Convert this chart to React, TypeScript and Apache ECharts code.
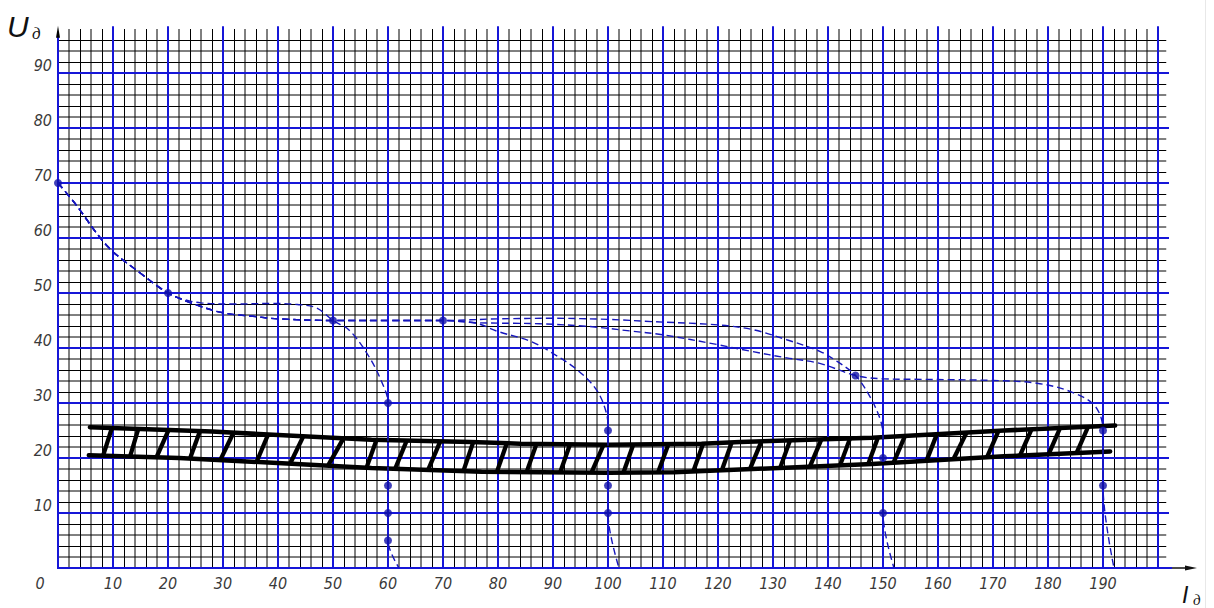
import React, { useEffect, useRef } from 'react';
import * as echarts from 'echarts';

// ---- tick labels ----
const X_TICK_LABELS = [0, 10, 20, 30, 40, 50, 60, 70, 80, 90, 100, 110, 120, 130, 140, 150, 160, 170, 180, 190];
const Y_TICK_LABELS = [10, 20, 30, 40, 50, 60, 70, 80, 90];

// ---- dashed volt-ampere curves (I, U) ----
const curveTo60 = [
  [0, 70], [3, 66.4], [9, 58.5], [15, 53.6], [20, 50], [22, 49.1], [26, 48.2], [32, 48], [39, 48.1],
  [43.5, 47.9], [47, 47.3], [50, 45], [53, 43.2], [56.5, 38.5], [59, 33.5], [60, 30], [60, 15], [60, 10], [60, 5], [62, 0],
];
const curveTo100 = [
  [0, 70], [3, 66.4], [9, 58.5], [15, 53.6], [20, 50], [25, 47.9], [30, 46.4], [36, 45.7], [40, 45.3], [50, 45],
  [60, 45], [70, 45], [76, 44.5], [80, 43], [86, 41.2], [90, 39], [94.3, 36.1], [97.9, 32.4], [99.7, 28.2], [100, 25],
  [100, 15], [100, 10], [102, 0],
];
const curveTo150 = [
  [0, 70], [3, 66.4], [9, 58.5], [15, 53.6], [20, 50], [25, 47.9], [30, 46.4], [36, 45.7], [40, 45.3], [50, 45],
  [60, 45], [70, 45], [80, 45.3], [90, 45.4], [100, 45.2], [108, 44.8], [120, 44.2], [126.5, 43.3], [132.5, 41.5],
  [138.5, 39.4], [141.6, 37.6], [145, 35], [147.6, 31.2], [149.5, 27], [150, 24], [150, 20], [150, 10], [152, 0],
];
const curveTo190 = [
  [0, 70], [3, 66.4], [9, 58.5], [15, 53.6], [20, 50], [25, 47.9], [30, 46.4], [36, 45.7], [40, 45.3], [50, 45],
  [60, 45], [70, 45], [76, 44.6], [87.6, 44.4], [96.7, 43.9], [104, 43.1], [110, 42.4], [120, 40.6], [126, 39.4],
  [132.5, 38.2], [138.5, 37.2], [145, 35], [150, 34.4], [157, 34.3], [170, 34.1], [178, 33.6], [184, 32.1],
  [188.5, 29.5], [190, 25], [190, 15], [192, 0],
];
const measuredPoints = [
  [0, 70], [20, 50], [50, 45], [70, 45], [145, 35], [190, 25],
  [60, 30], [60, 15], [60, 10], [60, 5],
  [100, 25], [100, 15], [100, 10],
  [150, 20], [150, 10],
  [190, 15],
];

// ---- hatched working band ----
const bandUpper = [
  [5.8, 25.6], [28, 24.8], [57, 23.3], [75, 22.9], [84, 22.6], [100, 22.4], [117, 22.6], [124, 22.9],
  [148, 23.7], [172, 25], [192.2, 25.9],
];
const bandLower = [
  [5.6, 20.5], [22, 20], [57, 18.2], [77, 17.5], [100, 17.3], [112, 17.4], [124, 17.9], [148, 18.9],
  [172, 20.3], [191.3, 21.2],
];
const hatchBottomX = [
  8.2, 13.1, 17.9, 24, 29.5, 36.1, 42.2, 49.1, 56.1, 61.3, 67.3, 73.7, 79.8, 85.2, 91.3, 97, 102.8, 109.1,
  115.5, 120.7, 125.8, 131.3, 136.7, 142.2, 147.3, 151.9, 157.9, 162.8, 168.9, 174.9, 180.1, 185.2,
];
const hatchTopX = [
  9.8, 14.6, 20.1, 25.8, 31.9, 38.2, 44.6, 51.9, 57.9, 63.4, 69.5, 75.5, 81.6, 87, 93.1, 99.2, 104.6, 111,
  117.3, 122.5, 127.9, 133.1, 138.8, 144, 149.1, 154, 159.8, 165.2, 171, 177, 182.2, 187.3,
];

const BLUE_GRID = '#1616d8';
const BLUE_CURVE = '#1616bc';
const BLUE_DOT = '#1010a8';
const LABEL_FONT = "'Liberation Sans Narrow', 'DejaVu Sans Condensed', 'Liberation Sans', sans-serif";

function yOnLine(line: number[][], x: number): number {
  if (x <= line[0][0]) return line[0][1];
  for (let i = 1; i < line.length; i++) {
    const [x0, y0] = line[i - 1];
    const [x1, y1] = line[i];
    if (x <= x1) return y0 + ((y1 - y0) * (x - x0)) / (x1 - x0);
  }
  return line[line.length - 1][1];
}

const X_MAX = 202;
const Y_MAX = 98;

function renderGrid(_params: any, api: any) {
  const children: any[] = [];
  const P = (x: number, y: number) => api.coord([x, y]);
  // minor verticals
  for (let v = 2; v < 200; v += 2) {
    if (v % 10 === 0) continue;
    const a = P(v, 0);
    const b = P(v, Y_MAX);
    const odd = Math.round(v / 2) % 2 === 1;
    const x = odd ? Math.round(a[0]) : Math.round(a[0]) + 0.5;
    children.push({ type: 'line', silent: true, shape: { x1: x, y1: a[1], x2: x, y2: b[1] }, style: { stroke: '#000', lineWidth: 1 } });
  }
  // minor horizontals
  for (let v = 2; v <= 96; v += 2) {
    if (v % 10 === 0) continue;
    const a = P(0, v);
    const b = P(201.5, v);
    const odd = Math.round(v / 2) % 2 === 1;
    const y = odd ? Math.round(a[1]) : Math.round(a[1]) + 0.5;
    children.push({ type: 'line', silent: true, shape: { x1: a[0], y1: y, x2: b[0], y2: y }, style: { stroke: '#000', lineWidth: 1 } });
  }
  // major verticals
  for (let v = 10; v <= 200; v += 10) {
    const a = P(v, 0);
    const b = P(v, 98.5);
    const x = Math.round(a[0]);
    children.push({ type: 'line', silent: true, shape: { x1: x, y1: a[1], x2: x, y2: b[1] }, style: { stroke: BLUE_GRID, lineWidth: 2 } });
  }
  // major horizontals
  for (let v = 10; v <= 90; v += 10) {
    const a = P(0, v);
    const b = P(X_MAX, v);
    const y = Math.round(a[1]);
    children.push({ type: 'line', silent: true, shape: { x1: a[0], y1: y, x2: b[0], y2: y }, style: { stroke: BLUE_GRID, lineWidth: 2 } });
  }
  // axes
  const o = P(0, 0);
  const yTop = P(0, 98.6);
  const xEnd = P(X_MAX, 0);
  const ox = Math.round(o[0]);
  const oy = Math.round(o[1]);
  children.push({ type: 'line', silent: true, shape: { x1: ox, y1: oy + 1, x2: ox, y2: yTop[1] + 8 }, style: { stroke: BLUE_GRID, lineWidth: 2 } });
  children.push({ type: 'line', silent: true, shape: { x1: ox - 1, y1: oy, x2: xEnd[0] + 3, y2: oy }, style: { stroke: BLUE_GRID, lineWidth: 2 } });
  // y arrow
  children.push({ type: 'polygon', silent: true, shape: { points: [[ox, yTop[1]], [ox - 2, yTop[1] + 12], [ox + 2, yTop[1] + 12]] }, style: { fill: '#000' } });
  // x arrow
  const arrowTip = xEnd[0] + 28;
  children.push({ type: 'line', silent: true, shape: { x1: xEnd[0] + 3, y1: oy, x2: arrowTip - 8, y2: oy }, style: { stroke: '#111', lineWidth: 1.5 } });
  children.push({ type: 'polygon', silent: true, shape: { points: [[arrowTip, oy], [arrowTip - 12, oy - 2.5], [arrowTip - 12, oy + 2.5]] }, style: { fill: '#111' } });
  return { type: 'group', children };
}

function renderHatch(_params: any, api: any) {
  const a = api.coord([api.value(0), api.value(1)]);
  const b = api.coord([api.value(2), api.value(3)]);
  return {
    type: 'line',
    silent: true,
    shape: { x1: a[0], y1: a[1], x2: b[0], y2: b[1] },
    style: { stroke: '#000', lineWidth: 4.3 },
  };
}

export default function App() {
  const ref = useRef<HTMLDivElement>(null);

  useEffect(() => {
    if (!ref.current) return;
    const chart = echarts.init(ref.current, undefined, { renderer: 'svg' });

    const hatchData = hatchBottomX.map((xb, i) => {
      const xt = hatchTopX[i];
      return [xb, yOnLine(bandLower, xb), xt, yOnLine(bandUpper, xt)];
    });

    const curveSeries = [curveTo60, curveTo100, curveTo150, curveTo190].map((c, i) => ({
      type: 'line',
      name: 'curve' + i,
      data: c,
      smooth: 0.35,
      symbol: 'none',
      silent: true,
      z: 4,
      lineStyle: { color: BLUE_CURVE, width: 1.4, type: [7, 4] },
    }));

    const labelBase = {
      fontStyle: 'italic',
      fontSize: 16,
      fontFamily: LABEL_FONT,
      color: '#3a3a3a',
    };

    const option: any = {
      animation: false,
      backgroundColor: '#ffffff',
      grid: { left: 58, top: 29, width: 5.5 * X_MAX, height: 5.5 * Y_MAX, containLabel: false, outerBoundsMode: 'none' },
      xAxis: {
        type: 'value',
        min: 0,
        max: X_MAX,
        interval: 10,
        axisLine: { show: false },
        axisTick: { show: false },
        splitLine: { show: false },
        axisLabel: {
          ...labelBase,
          margin: 7,
          showMaxLabel: false,
          formatter: (v: number) => {
            if (v === 0) return '{z|0}';
            return X_TICK_LABELS.includes(v) ? String(v) : '';
          },
          rich: { z: { ...labelBase, padding: [0, 36, 0, 0] } },
        },
      },
      yAxis: {
        type: 'value',
        min: 0,
        max: Y_MAX,
        interval: 10,
        axisLine: { show: false },
        axisTick: { show: false },
        splitLine: { show: false },
        axisLabel: {
          ...labelBase,
          margin: 6,
          verticalAlign: 'bottom',
          formatter: (v: number) => (Y_TICK_LABELS.includes(v) ? String(v) : ''),
        },
      },
      series: [
        {
          type: 'custom',
          name: 'paper',
          z: 1,
          silent: true,
          clip: false,
          data: [[0, 0]],
          renderItem: renderGrid,
        },
        {
          type: 'line',
          name: 'bandUpper',
          data: bandUpper,
          symbol: 'none',
          silent: true,
          z: 3,
          lineStyle: { color: '#000', width: 4.5, cap: 'round' },
        },
        {
          type: 'line',
          name: 'bandLower',
          data: bandLower,
          symbol: 'none',
          silent: true,
          z: 3,
          lineStyle: { color: '#000', width: 4.5, cap: 'round' },
        },
        {
          type: 'custom',
          name: 'hatch',
          z: 3,
          silent: true,
          data: hatchData,
          encode: { x: [0, 2], y: [1, 3] },
          renderItem: renderHatch,
        },
        ...curveSeries,
        {
          type: 'scatter',
          name: 'points',
          data: measuredPoints,
          symbolSize: 8,
          silent: true,
          z: 5,
          itemStyle: { color: BLUE_DOT },
        },
      ],
      graphic: [
        {
          type: 'text',
          left: 7,
          top: 11,
          silent: true,
          style: { text: 'U', fontSize: 30, fontStyle: 'italic', fontFamily: "'Liberation Sans', sans-serif", fill: '#111' },
        },
        {
          type: 'text',
          left: 32,
          top: 25,
          silent: true,
          style: { text: 'д', fontSize: 17, fontStyle: 'italic', fontFamily: "'Liberation Serif', serif", fill: '#111' },
        },
        {
          type: 'text',
          left: 1182,
          top: 583,
          silent: true,
          style: { text: 'I', fontSize: 23, fontStyle: 'italic', fontFamily: "'Liberation Sans', sans-serif", fill: '#111' },
        },
        {
          type: 'text',
          left: 1193,
          top: 592,
          silent: true,
          style: { text: 'д', fontSize: 15, fontStyle: 'italic', fontFamily: "'Liberation Serif', serif", fill: '#111' },
        },
        {
          type: 'line',
          silent: true,
          shape: { x1: 1205.5, y1: 0, x2: 1205.5, y2: 608 },
          style: { stroke: '#e8e8e8', lineWidth: 1 },
        },
      ],
    };

    chart.setOption(option);
    return () => {
      chart.dispose();
    };
  }, []);

  return (
    <div
      ref={ref}
      style={{ position: 'fixed', left: 0, top: 0, width: 1214, height: 608, background: '#fff' }}
    />
  );
}
